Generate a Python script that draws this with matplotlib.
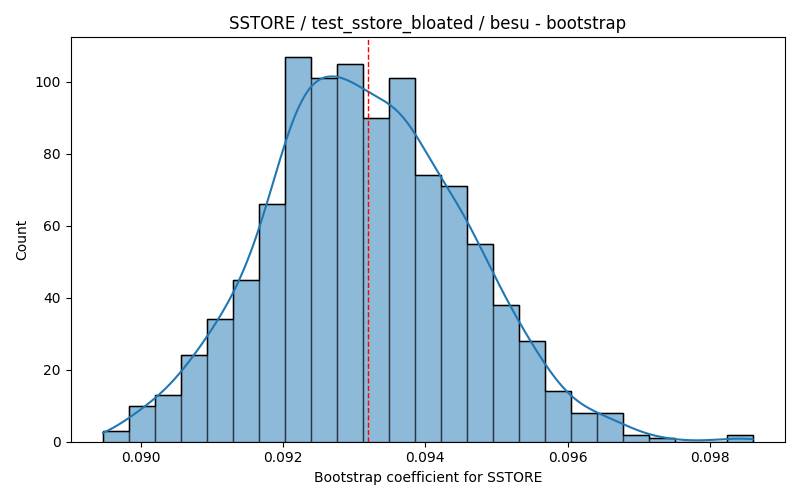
import matplotlib
matplotlib.use("Agg")
import matplotlib.pyplot as plt
import numpy as np

# bootstrap histogram
bin_start = 0.08947
bin_end = 0.09860
counts = [3, 10, 13, 24, 34, 45, 66, 107, 101, 105, 90, 101, 74,
          71, 55, 38, 28, 14, 8, 8, 2, 1, 0, 0, 2]
mean_value = 0.09319

edges = np.linspace(bin_start, bin_end, len(counts) + 1)
centers = (edges[:-1] + edges[1:]) / 2
weights = np.array(counts, dtype=float)
width = edges[1] - edges[0]

fig, ax = plt.subplots(figsize=(8, 5), dpi=100)

ax.hist(centers, bins=edges, weights=weights, color="#1f77b4", alpha=0.5,
        edgecolor="black", linewidth=1)
ax.hist(centers, bins=edges, weights=weights, histtype="step",
        edgecolor="black", linewidth=1)

# gaussian kde (scott, n = number of samples), scaled to counts
total = weights.sum()
mu = np.sum(weights * centers) / total
sd = np.sqrt(np.sum(weights * (centers - mu) ** 2) / total)
bw = sd * total ** (-1 / 5)
grid = np.linspace(bin_start, bin_end, 400)
dens = np.sum(weights[None, :] * np.exp(-0.5 * ((grid[:, None] - centers[None, :]) / bw) ** 2), axis=1)
dens = dens / (total * bw * np.sqrt(2 * np.pi))
ax.plot(grid, dens * total * width, color="#1f77b4", linewidth=1.5)

ax.axvline(mean_value, color="red", linestyle="--", linewidth=1)

ax.set_title("SSTORE / test_sstore_bloated / besu - bootstrap")
ax.set_xlabel("Bootstrap coefficient for SSTORE")
ax.set_ylabel("Count")

plt.tight_layout()
plt.savefig("out.png")
